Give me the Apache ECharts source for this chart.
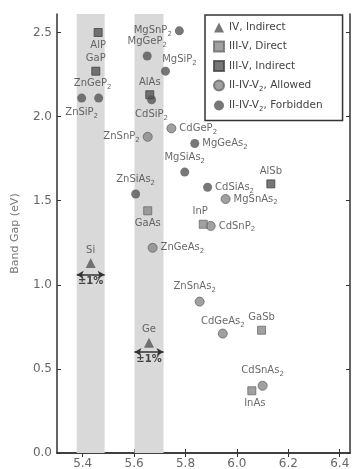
<!DOCTYPE html>
<html><head><meta charset="utf-8">
<script src="https://cdn.jsdelivr.net/npm/echarts@6/dist/echarts.min.js"></script>
<style>html,body{margin:0;padding:0;background:#fff}#c{width:354px;height:469px}</style>
</head><body><div id="c"></div>
<script>
// ---- tick labels ----
const xTicks = [5.4, 5.6, 5.8, 6.0, 6.2, 6.4];
const yTicks = [0, 0.5, 1.0, 1.5, 2.0, 2.5];

// ---- IV, indirect ----
const ivNames = ['Si', 'Ge'];
const ivA = [5.431, 5.658];
const ivGap = [1.13, 0.655];
const ivArrowGap = [1.06, 0.60];
const bandTol = 0.01;

// ---- III-V direct ----
const dNames = ['GaAs', 'InP', 'GaSb', 'InAs'];
const dA = [5.653, 5.869, 6.096, 6.058];
const dGap = [1.44, 1.36, 0.73, 0.37];

// ---- III-V indirect ----
const iNames = ['AlP', 'GaP', 'AlAs', 'AlSb'];
const iA = [5.460, 5.451, 5.661, 6.132];
const iGap = [2.50, 2.27, 2.13, 1.60];

// ---- II-IV-V2 allowed ----
const aNames = ['ZnSnP2', 'CdGeP2', 'ZnGeAs2', 'CdSnP2', 'MgSnAs2', 'ZnSnAs2', 'CdGeAs2', 'CdSnAs2'];
const aA = [5.653, 5.745, 5.672, 5.898, 5.956, 5.855, 5.945, 6.100];
const aGap = [1.88, 1.93, 1.22, 1.35, 1.51, 0.90, 0.71, 0.40];

// ---- II-IV-V2 forbidden ----
const fNames = ['ZnSiP2', 'ZnGeP2', 'MgSnP2', 'MgGeP2', 'MgSiP2', 'CdSiP2', 'MgGeAs2', 'MgSiAs2', 'CdSiAs2', 'ZnSiAs2'];
const fA = [5.396, 5.462, 5.776, 5.651, 5.722, 5.668, 5.836, 5.797, 5.886, 5.606];
const fGap = [2.11, 2.11, 2.51, 2.36, 2.27, 2.10, 1.84, 1.67, 1.58, 1.54];

const legendNames = ['IV, Indirect', 'III-V, Direct', 'III-V, Indirect', 'II-IV-V2, Allowed', 'II-IV-V2, Forbidden'];

// ---- label placement (style config) ----
const labelPlace = {
  Si:'top', Ge:'top',
  AlP:'bottom', GaP:'top', AlAs:'top', AlSb:'top',
  GaAs:'bottom', InP:'top', GaSb:'top', InAs:'bottom',
  ZnSnP2:'left', CdGeP2:'right', ZnGeAs2:'right', CdSnP2:'right', MgSnAs2:'right',
  ZnSnAs2:'top', CdGeAs2:'top', CdSnAs2:'top',
  ZnSiP2:'bottom', ZnGeP2:'top', MgSnP2:'left', MgGeP2:'top', MgSiP2:'top', CdSiP2:'bottom',
  MgGeAs2:'right', MgSiAs2:'top', CdSiAs2:'right', ZnSiAs2:'top'
};
const labelShift = { MgSiP2:[14,3], ZnGeP2:[-6,0], ZnSnAs2:[-5,0], InP:[-3,0], CdGeAs2:[0,3], InAs:[3,0] };

const FF = 'DejaVu Sans';
const sub = s => s.replace(/2/g, '{s|2}');
const rich = { s: { fontSize: 7, fontFamily: FF, color: '#444', verticalAlign: 'bottom', lineHeight: 14 } };

function mk(names, a, g) {
  return names.map((n, i) => ({
    name: n, value: [a[i], g[i]],
    label: { position: labelPlace[n] || 'right', offset: labelShift[n] || [0, 0] }
  }));
}

const baseLabel = {
  show: true, formatter: p => sub(p.name), fontSize: 10, fontFamily: FF,
  color: '#444', distance: 3, rich: rich
};

const chart = echarts.init(document.getElementById('c'), null, { renderer: 'canvas' });

const axisLineStyle = { color: '#333', width: 1.5 };
const xCommon = { type: 'value', min: 5.3, max: 6.44, splitLine: { show: false } };
const yCommon = { type: 'value', min: 0, max: 2.61, splitLine: { show: false } };

const option = {
  animation: false,
  backgroundColor: '#fff',
  grid: { left: 57, right: 4, top: 14, bottom: 16, show: false, outerBoundsMode: 'none' },
  legend: {
    data: legendNames, orient: 'vertical', left: 205, top: 15,
    padding: [7, 20, 8, 8], itemGap: 7.5, itemWidth: 10, itemHeight: 10,
    borderColor: '#333', borderWidth: 1.5, backgroundColor: '#fff',
    formatter: n => n.replace('V2', 'V{s|2}'),
    textStyle: { fontSize: 10.5, fontFamily: FF, color: '#444', rich: rich }
  },
  xAxis: [
    Object.assign({}, xCommon, {
      position: 'bottom',
      axisLine: { show: true, lineStyle: axisLineStyle },
      axisTick: { show: true, inside: true, length: 4, customValues: xTicks, lineStyle: { color: '#333' } },
      axisLabel: { customValues: xTicks, formatter: v => v.toFixed(1), color: '#666', fontSize: 12, fontFamily: FF, margin: 5 }
    }),
    Object.assign({}, xCommon, {
      position: 'top',
      axisLine: { show: true, lineStyle: axisLineStyle },
      axisTick: { show: true, inside: true, length: 4, customValues: xTicks, lineStyle: { color: '#333' } },
      axisLabel: { show: false }
    })
  ],
  yAxis: [
    Object.assign({}, yCommon, {
      position: 'left',
      name: 'Band Gap (eV)', nameLocation: 'middle', nameGap: 36,
      nameTextStyle: { color: '#777', fontSize: 11, fontFamily: FF },
      axisLine: { show: true, lineStyle: axisLineStyle },
      axisTick: { show: true, inside: true, length: 4, customValues: yTicks, lineStyle: { color: '#333' } },
      axisLabel: { customValues: yTicks, formatter: v => v.toFixed(1), color: '#666', fontSize: 12, fontFamily: FF, margin: 5 }
    }),
    Object.assign({}, yCommon, {
      position: 'right',
      axisLine: { show: true, lineStyle: axisLineStyle },
      axisTick: { show: true, inside: true, length: 4, customValues: yTicks, lineStyle: { color: '#333' } },
      axisLabel: { show: false }
    })
  ],
  series: [
    {
      name: 'bands', type: 'scatter', data: [], z: 1, silent: true,
      markArea: {
        silent: true, itemStyle: { color: '#d9d9d9' },
        data: ivA.map(a => [{ xAxis: a * (1 - bandTol) }, { xAxis: a * (1 + bandTol) }])
      }
    },
    {
      name: legendNames[0], type: 'scatter', symbol: 'triangle', symbolSize: 10,
      itemStyle: { color: '#555' }, label: baseLabel, data: mk(ivNames, ivA, ivGap), z: 4,
      markLine: {
        silent: true, symbol: ['arrow', 'arrow'], symbolSize: [6, 7],
        lineStyle: { color: '#333', width: 1.5, type: 'solid' },
        label: { show: true, formatter: '±1%', position: 'insideMiddleBottom', distance: 2,
                 color: '#444', fontSize: 10, fontFamily: FF, fontWeight: 'bold' },
        data: ivA.map((a, i) => [{ coord: [a * (1 - bandTol), ivArrowGap[i]] }, { coord: [a * (1 + bandTol), ivArrowGap[i]] }])
      }
    },
    {
      name: legendNames[1], type: 'scatter', symbol: 'rect', symbolSize: 8,
      itemStyle: { color: '#8a8a8a', borderColor: '#6a6a6a', borderWidth: 1 }, label: baseLabel,
      data: mk(dNames, dA, dGap), z: 4
    },
    {
      name: legendNames[2], type: 'scatter', symbol: 'rect', symbolSize: 8,
      itemStyle: { color: '#555', borderColor: '#444', borderWidth: 1 }, label: baseLabel,
      data: mk(iNames, iA, iGap), z: 4
    },
    {
      name: legendNames[3], type: 'scatter', symbol: 'circle', symbolSize: 9,
      itemStyle: { color: '#888', borderColor: '#666', borderWidth: 1 }, label: baseLabel,
      data: mk(aNames, aA, aGap), z: 3
    },
    {
      name: legendNames[4], type: 'scatter', symbol: 'circle', symbolSize: 9,
      itemStyle: { color: '#555' }, label: baseLabel,
      data: mk(fNames, fA, fGap), z: 3
    }
  ]
};
chart.setOption(option);
</script></body></html>
